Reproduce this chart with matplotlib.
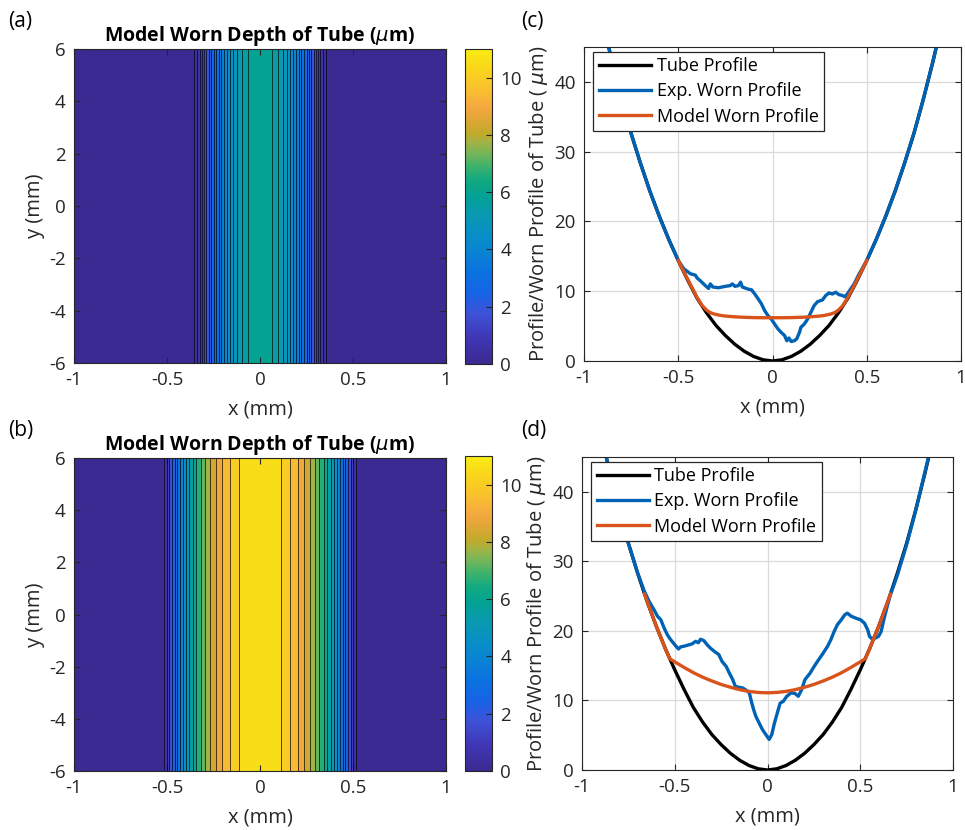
import numpy as np
import matplotlib
matplotlib.use('Agg')
import matplotlib.pyplot as plt
from matplotlib.colors import LinearSegmentedColormap, Normalize
from matplotlib.cm import ScalarMappable

plt.rcParams['font.family'] = ['Open Sans', 'DejaVu Sans']
plt.rcParams['axes.unicode_minus'] = False

# tube surface profile (um) along x (mm)
tube_x = [-1.0, -0.95, -0.9, -0.85, -0.8, -0.75, -0.7, -0.65, -0.6, -0.55, -0.5,
          -0.45, -0.4, -0.35, -0.3, -0.25, -0.2, -0.15, -0.1, -0.05, 0.0,
          0.05, 0.1, 0.15, 0.2, 0.25, 0.3, 0.35, 0.4, 0.45, 0.5,
          0.55, 0.6, 0.65, 0.7, 0.75, 0.8, 0.85, 0.9, 0.95, 1.0]
tube_y = [61.0, 54.5, 48.5, 42.8, 37.5, 32.6, 28.3, 24.3, 20.7, 17.4, 14.4,
          11.6, 9.0, 6.9, 5.1, 3.65, 2.4, 1.4, 0.65, 0.17, 0.0,
          0.17, 0.65, 1.4, 2.4, 3.65, 5.1, 6.9, 9.0, 11.6, 14.4,
          17.4, 20.7, 24.3, 28.3, 32.6, 37.5, 42.8, 48.5, 54.5, 61.0]

# case 1: measured worn profile
exp1_x = [-0.9, -0.85, -0.8, -0.75, -0.7, -0.65, -0.6, -0.55, -0.5,
          -0.47, -0.435, -0.409, -0.4, -0.383, -0.356, -0.339, -0.33, -0.316, -0.286,
          -0.251, -0.225, -0.213, -0.199, -0.181, -0.169, -0.16, -0.129, -0.111, -0.094,
          -0.076, -0.059, -0.041, -0.024, -0.006, 0.011, 0.029, 0.046, 0.064, 0.076,
          0.087, 0.099, 0.116, 0.129, 0.143, 0.151, 0.169, 0.186, 0.204, 0.221,
          0.239, 0.265, 0.283, 0.3, 0.318, 0.335, 0.353, 0.37, 0.384, 0.397,
          0.414, 0.432, 0.458, 0.5,
          0.55, 0.6, 0.65, 0.7, 0.75, 0.8, 0.85, 0.9]
exp1_y = [48.5, 42.8, 37.5, 32.6, 28.3, 24.3, 20.7, 17.4, 14.4,
          13.2, 12.5, 12.3, 11.9, 11.5, 10.8, 10.4, 11.05, 10.6, 10.5,
          10.7, 10.8, 11.05, 10.7, 10.8, 11.3, 10.6, 10.3, 10.2, 9.6,
          8.9, 8.2, 7.2, 6.5, 6.0, 5.3, 4.6, 4.1, 3.65, 2.9,
          3.3, 2.8, 2.9, 3.2, 4.1, 4.85, 5.3, 6.0, 7.0, 7.95,
          8.5, 8.75, 9.4, 9.75, 9.6, 9.85, 9.5, 9.4, 9.2, 9.6,
          10.3, 11.0, 12.4, 14.4,
          17.4, 20.7, 24.3, 28.3, 32.6, 37.5, 42.8, 48.5]

# case 1: model worn profile
model1_x = [-0.5, -0.45, -0.4, -0.375, -0.35, -0.3375, -0.325, -0.3125, -0.3, -0.275,
            -0.25, -0.2, -0.15, -0.1, -0.05, 0.0, 0.05, 0.1, 0.15, 0.2,
            0.25, 0.275, 0.3, 0.3125, 0.325, 0.3375, 0.35, 0.375, 0.4, 0.45, 0.5]
model1_y = [14.4, 11.7, 9.1, 8.0, 7.3, 7.05, 6.88, 6.76, 6.67, 6.53,
            6.44, 6.33, 6.26, 6.22, 6.2, 6.2, 6.2, 6.22, 6.26, 6.33,
            6.44, 6.53, 6.67, 6.76, 6.88, 7.05, 7.3, 8.0, 9.1, 11.7, 14.4]

# case 1: model worn depth (um)
depth1_x = [-1.0, -0.4, -0.375, -0.35, -0.325, -0.3, -0.25, -0.2, -0.15, -0.1, -0.05, 0.0,
            0.05, 0.1, 0.15, 0.2, 0.25, 0.3, 0.325, 0.35, 0.375, 0.4, 1.0]
depth1 = [0.0, 0.0, 0.05, 0.4, 0.88, 1.57, 2.79, 3.93, 4.86, 5.57, 6.03, 6.2,
          6.03, 5.57, 4.86, 3.93, 2.79, 1.57, 0.88, 0.4, 0.05, 0.0, 0.0]

# case 2: measured worn profile
exp2_x = [-0.9, -0.85, -0.8, -0.75, -0.7, -0.664, -0.6375, -0.611, -0.593, -0.575,
          -0.557, -0.539, -0.521, -0.495, -0.48, -0.468, -0.45, -0.423, -0.405, -0.3875,
          -0.373, -0.361, -0.343, -0.325, -0.307, -0.284, -0.2625, -0.245, -0.223, -0.205,
          -0.1875, -0.173, -0.155, -0.134, -0.116, -0.098, -0.0875, -0.075, -0.0625, -0.045,
          -0.027, -0.009, 0.009, 0.023, 0.0375, 0.055, 0.068, 0.086, 0.104, 0.127,
          0.148, 0.166, 0.184, 0.202, 0.229, 0.246, 0.264, 0.282, 0.3, 0.323,
          0.341, 0.359, 0.377, 0.398, 0.416, 0.43, 0.452, 0.479, 0.502, 0.523,
          0.541, 0.55, 0.559, 0.58, 0.598, 0.6125, 0.627, 0.645, 0.66, 0.7,
          0.75, 0.8, 0.85, 0.9]
exp2_y = [48.5, 42.8, 37.5, 32.6, 28.3, 25.7, 24.2, 23.0, 22.1, 21.6,
          20.4, 19.4, 18.7, 17.85, 17.4, 17.7, 17.8, 18.0, 18.15, 18.5,
          18.3, 18.8, 18.6, 18.0, 17.5, 17.0, 16.6, 15.6, 14.9, 13.9,
          13.0, 12.0, 11.9, 11.8, 11.5, 11.1, 9.9, 8.7, 7.7, 6.75,
          5.8, 5.1, 4.4, 5.1, 6.75, 8.4, 9.6, 9.9, 10.6, 11.1,
          11.0, 10.6, 11.55, 13.0, 13.9, 14.65, 15.4, 16.1, 16.8, 17.75,
          18.7, 19.9, 20.9, 21.6, 22.3, 22.55, 22.1, 21.8, 21.6, 21.1,
          20.1, 19.2, 18.95, 18.95, 19.2, 19.9, 21.6, 23.5, 25.0, 28.0,
          32.4, 37.4, 43.0, 48.5]

# case 2: model worn profile
model2_x = [-0.663, -0.6, -0.55, -0.527, -0.5, -0.45, -0.4, -0.35, -0.3, -0.25,
            -0.2, -0.15, -0.1, -0.05, 0.0, 0.05, 0.1, 0.15, 0.2, 0.25,
            0.3, 0.35, 0.4, 0.45, 0.5, 0.527, 0.55, 0.6, 0.663]
model2_y = [25.3, 20.7, 17.4, 16.0, 15.55, 14.75, 14.0, 13.35, 12.8, 12.3,
            11.9, 11.55, 11.3, 11.15, 11.1, 11.15, 11.3, 11.55, 11.9, 12.3,
            12.8, 13.35, 14.0, 14.75, 15.55, 16.0, 17.4, 20.7, 25.3]

# case 2: model worn depth (um)
depth2_x = [-1.0, -0.527, -0.5, -0.45, -0.4, -0.35, -0.3, -0.25, -0.2, -0.15, -0.1, -0.05, 0.0,
            0.05, 0.1, 0.15, 0.2, 0.25, 0.3, 0.35, 0.4, 0.45, 0.5, 0.527, 1.0]
depth2 = [0.0, 0.0, 1.15, 3.15, 5.0, 6.45, 7.7, 8.65, 9.5, 10.15, 10.65, 10.98, 11.1,
          10.98, 10.65, 10.15, 9.5, 8.65, 7.7, 6.45, 5.0, 3.15, 1.15, 0.0, 0.0]

# parula-like colour map
cmap_pts = [(0.00, '#3b2a92'), (0.08, '#4036b4'), (0.16, '#3e52d8'), (0.22, '#1763e6'),
            (0.29, '#0b72e0'), (0.35, '#0a82d4'), (0.42, '#0891c4'), (0.48, '#0a9aae'),
            (0.53, '#02a196'), (0.585, '#12aa80'), (0.63, '#40b26c'), (0.67, '#76b658'),
            (0.71, '#a8b242'), (0.73, '#bfaa2a'), (0.79, '#e8a638'), (0.82, '#f5aa40'),
            (0.87, '#f9bf30'), (0.93, '#f9d21c'), (1.00, '#f9ec14')]
parula = LinearSegmentedColormap.from_list('parula_like', cmap_pts)
norm = Normalize(0, 11)

INK = '#262626'
BLUE = '#0062b4'
RED = '#d9531a'


def box(l, t, r, b):
    return [l / 965, 1 - b / 830, (r - l) / 965, (b - t) / 830]


def style_axes(ax):
    for s in ax.spines.values():
        s.set_color(INK)
        s.set_linewidth(0.8)
    ax.tick_params(direction='in', top=True, right=True, labelsize=13.5,
                   colors=INK, length=4, width=0.8, pad=6)


def draw_depth(ax, cax, dx, dz):
    dx = np.asarray(dx)
    dz = np.asarray(dz)
    X, Y = np.meshgrid(dx, [-6, 6])
    Z = np.tile(dz, (2, 1))
    levels = np.linspace(0, dz.max(), 21)
    fills = [parula(norm(v)) for v in levels[:-1]]
    ax.contourf(X, Y, Z, levels=levels, colors=fills)
    ax.contour(X, Y, Z, levels=levels[1:-1], colors='k', linewidths=0.6, alpha=0.8)
    ax.set_xlim(-1, 1)
    ax.set_ylim(-6, 6)
    ax.set_xticks([-1, -0.5, 0, 0.5, 1])
    ax.set_xticklabels(['-1', '-0.5', '0', '0.5', '1'])
    ax.set_yticks([-6, -4, -2, 0, 2, 4, 6])
    ax.set_xlabel('x (mm)', fontsize=14.5, color=INK, labelpad=7)
    ax.set_ylabel('y (mm)', fontsize=14.5, color=INK, labelpad=3)
    ax.set_title(r'Model Worn Depth of Tube ($\mu$m)', fontsize=14,
                 fontweight='bold', pad=6)
    style_axes(ax)

    sm = ScalarMappable(norm=norm, cmap=parula)
    cb = plt.colorbar(sm, cax=cax)
    cb.set_ticks([0, 2, 4, 6, 8, 10])
    cb.outline.set_edgecolor(INK)
    cb.outline.set_linewidth(0.8)
    cax.tick_params(direction='in', labelsize=13.5, colors=INK, length=4, width=0.8, pad=6)


def draw_profile(ax, ex, ey, mx, my):
    ax.plot(tube_x, tube_y, color='k', lw=2.4, label='Tube Profile')
    ax.plot(ex, ey, color=BLUE, lw=2.4, label='Exp. Worn Profile')
    ax.plot(mx, my, color=RED, lw=2.4, label='Model Worn Profile')
    ax.set_xlim(-1, 1)
    ax.set_ylim(0, 45)
    ax.set_xticks([-1, -0.5, 0, 0.5, 1])
    ax.set_xticklabels(['-1', '-0.5', '0', '0.5', '1'])
    ax.set_yticks([0, 10, 20, 30, 40])
    ax.grid(True, color='#dadada', lw=0.9)
    ax.set_axisbelow(True)
    ax.set_xlabel('x (mm)', fontsize=14.5, color=INK, labelpad=7)
    ax.set_ylabel(r'Profile/Worn Profile of Tube ( $\mu$m)', fontsize=14.5,
                  color=INK, labelpad=3)
    leg = ax.legend(loc='upper left', bbox_to_anchor=(0.025, 0.985), fontsize=13,
                    frameon=True, fancybox=False, framealpha=1, borderaxespad=0,
                    handlelength=2.9, handletextpad=0.3, borderpad=0.3,
                    labelspacing=0.4)
    leg.get_frame().set_edgecolor(INK)
    leg.get_frame().set_linewidth(0.9)
    style_axes(ax)


fig = plt.figure(figsize=(9.65, 8.3), dpi=100)

ax_a = fig.add_axes(box(74, 49, 446, 363))
cax_a = fig.add_axes(box(465, 49, 492, 364))
ax_c = fig.add_axes(box(584, 47, 961, 361))
ax_b = fig.add_axes(box(74, 458, 446, 771))
cax_b = fig.add_axes(box(465, 456, 492, 771))
ax_d = fig.add_axes(box(582, 457, 953, 770))

draw_depth(ax_a, cax_a, depth1_x, depth1)
draw_depth(ax_b, cax_b, depth2_x, depth2)
draw_profile(ax_c, exp1_x, exp1_y, model1_x, model1_y)
draw_profile(ax_d, exp2_x, exp2_y, model2_x, model2_y)

for lbl, px, py in [('(a)', 8, 22), ('(c)', 521, 22), ('(b)', 8, 430), ('(d)', 521, 430)]:
    fig.text(px / 965, 1 - py / 830, lbl, fontsize=15, color='k', va='center', ha='left')

fig.savefig('out.png', dpi=100)
